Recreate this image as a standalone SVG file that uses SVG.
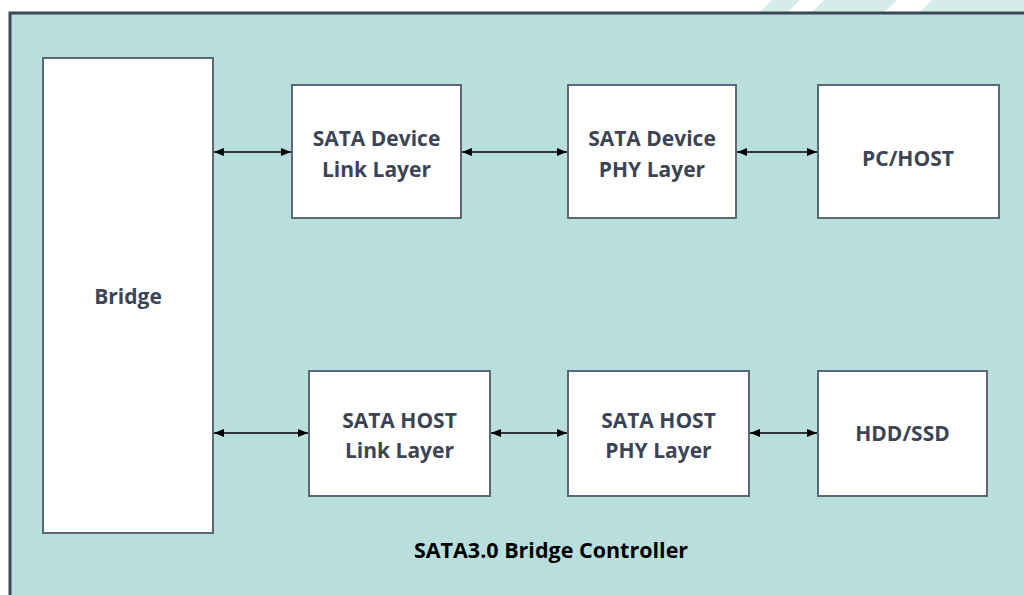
<svg xmlns="http://www.w3.org/2000/svg" width="1024" height="595" viewBox="0 0 1024 595">
  <style>
    .frame { fill: #b8dedd; stroke: #3b4759; stroke-width: 3; }
    .box { fill: #ffffff; stroke: #5b6878; stroke-width: 2; }
    .label { font-family: "Open Sans", "Liberation Sans", sans-serif; font-weight: 700; font-size: 21px; fill: #3b4556; text-anchor: middle; }
    .title { font-family: "Open Sans", "Liberation Sans", sans-serif; font-weight: 700; font-size: 21.5px; fill: #000000; text-anchor: middle; }
    .link { stroke: #000000; stroke-width: 1.3; fill: none; marker-start: url(#arrowStart); marker-end: url(#arrowEnd); }
    .stripe { fill: #d5ecea; }
  </style>
  <defs>
    <marker id="arrowEnd" viewBox="0 0 10 8" refX="10" refY="4" markerWidth="10" markerHeight="8" markerUnits="userSpaceOnUse" orient="auto">
      <path d="M0,0 L10,4 L0,8 Z" fill="#000000"/>
    </marker>
    <marker id="arrowStart" viewBox="0 0 10 8" refX="0" refY="4" markerWidth="10" markerHeight="8" markerUnits="userSpaceOnUse" orient="auto">
      <path d="M10,0 L0,4 L10,8 Z" fill="#000000"/>
    </marker>
  </defs>

  <!-- page background -->
  <rect x="0" y="0" width="1024" height="595" fill="#ffffff"/>

  <!-- decorative slanted stripes along the top edge -->
  <g id="top-stripes">
    <polygon class="stripe" points="760,12 772,0 800,0 788,12"/>
    <polygon class="stripe" points="812,12 824,0 897,0 885,12"/>
    <polygon class="stripe" points="920,12 932,0 1024,0 1024,12"/>
  </g>

  <!-- controller enclosure -->
  <g id="controller">
    <rect class="frame" x="10" y="13" width="1030" height="600"/>
    <text class="title" x="551" y="558">SATA3.0 Bridge Controller</text>
  </g>

  <!-- connectors -->
  <g id="connectors">
    <line class="link" x1="214" y1="152" x2="291" y2="152"/>
    <line class="link" x1="462" y1="152" x2="567" y2="152"/>
    <line class="link" x1="737" y1="152" x2="817" y2="152"/>
    <line class="link" x1="214" y1="433" x2="308" y2="433"/>
    <line class="link" x1="491" y1="433" x2="567" y2="433"/>
    <line class="link" x1="750" y1="433" x2="817" y2="433"/>
  </g>

  <g id="bridge">
    <rect class="box" x="43" y="58" width="170" height="475"/>
    <text class="label" x="128" y="304">Bridge</text>
  </g>

  <g id="device-link">
    <rect class="box" x="292" y="85" width="169" height="133"/>
    <text class="label" x="376.5" y="146">SATA Device</text>
    <text class="label" x="376.5" y="177">Link Layer</text>
  </g>

  <g id="device-phy">
    <rect class="box" x="568" y="85" width="168" height="133"/>
    <text class="label" x="652" y="146">SATA Device</text>
    <text class="label" x="652" y="177">PHY Layer</text>
  </g>

  <g id="pc-host">
    <rect class="box" x="818" y="85" width="181" height="133"/>
    <text class="label" x="908" y="166">PC/HOST</text>
  </g>

  <g id="host-link">
    <rect class="box" x="309" y="371" width="181" height="125"/>
    <text class="label" x="399.5" y="428">SATA HOST</text>
    <text class="label" x="399.5" y="458">Link Layer</text>
  </g>

  <g id="host-phy">
    <rect class="box" x="568" y="371" width="181" height="125"/>
    <text class="label" x="658.5" y="428">SATA HOST</text>
    <text class="label" x="658.5" y="458">PHY Layer</text>
  </g>

  <g id="hdd-ssd">
    <rect class="box" x="818" y="371" width="169" height="125"/>
    <text class="label" x="902.5" y="441">HDD/SSD</text>
  </g>
</svg>
